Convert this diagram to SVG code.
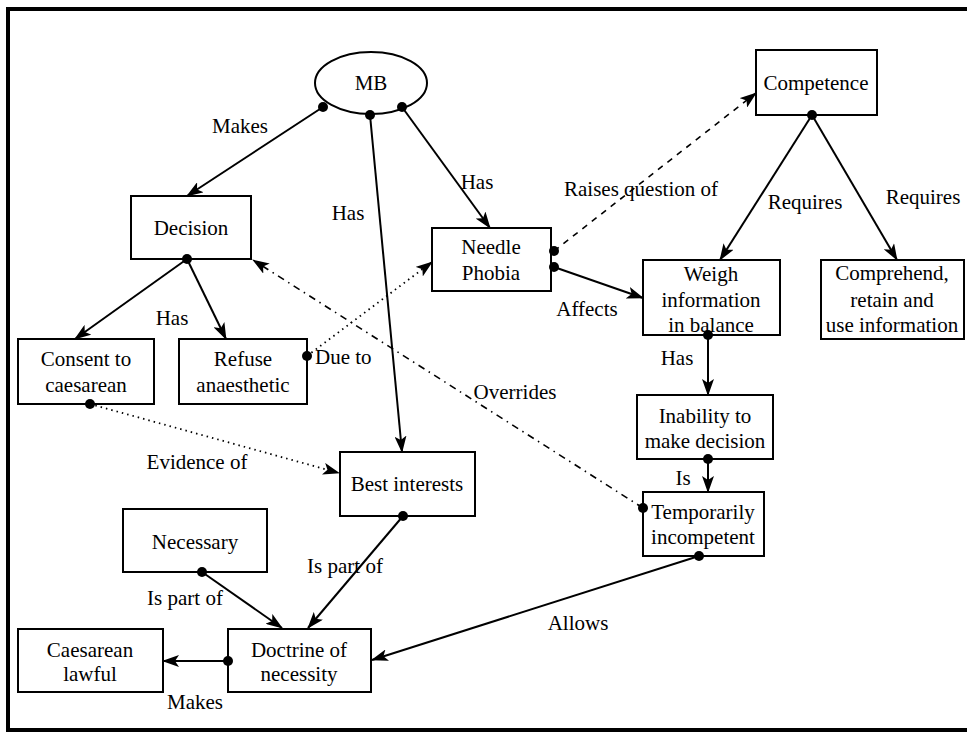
<svg xmlns="http://www.w3.org/2000/svg" width="967" height="732" viewBox="0 0 967 732">
<style>
  text { font-family: Liberation Serif, serif; font-size: 21px; fill: #000; text-anchor: middle; }
  .box { fill: #fff; stroke: #000; stroke-width: 2; }
  .c { fill: none; stroke: #000; stroke-width: 2; marker-end: url(#arr); }
  .dash { stroke-width: 1.6; stroke-dasharray: 6 6; }
  .dot { stroke-width: 1.8; stroke-dasharray: 1.5 4; }
  .dd { stroke-width: 1.6; stroke-dasharray: 7 5 1.5 5; }
</style>
<defs>
  <marker id="arr" viewBox="0 0 17 12" refX="16" refY="6" markerWidth="17" markerHeight="12" markerUnits="userSpaceOnUse" orient="auto">
    <path d="M0,0 L17,6 L0,12 L4,6 z" fill="#000"/>
  </marker>
</defs>
<rect width="967" height="732" fill="#fff"/>
<path d="M967,9 H8 V730 H967" fill="none" stroke="#000" stroke-width="4"/>

<g id="connectors">
  <line class="c" x1="323" y1="107" x2="187" y2="196"/>
  <line class="c" x1="370" y1="115" x2="402" y2="452"/>
  <line class="c" x1="402" y1="107" x2="490" y2="228"/>
  <line class="c dash" x1="554" y1="251" x2="756" y2="93"/>
  <line class="c" x1="554" y1="267" x2="643" y2="298"/>
  <line class="c" x1="812" y1="115" x2="720" y2="260"/>
  <line class="c" x1="812" y1="115" x2="897" y2="260"/>
  <line class="c" x1="708" y1="335" x2="708" y2="395"/>
  <line class="c" x1="708" y1="459" x2="708" y2="492"/>
  <line class="c dd" x1="643" y1="508" x2="253" y2="260"/>
  <line class="c" x1="699" y1="556" x2="372" y2="660"/>
  <line class="c" x1="187" y1="259" x2="75" y2="339"/>
  <line class="c" x1="187" y1="259" x2="226" y2="339"/>
  <line class="c dot" x1="307" y1="356" x2="432" y2="262"/>
  <line class="c dot" x1="90" y1="404" x2="339" y2="473"/>
  <line class="c" x1="403" y1="516" x2="308" y2="628"/>
  <line class="c" x1="202" y1="572" x2="282" y2="628"/>
  <line class="c" x1="228" y1="661" x2="163" y2="661"/>
  <text x="240" y="133">Makes</text>
  <text x="348" y="220">Has</text>
  <text x="477" y="189">Has</text>
  <text x="641" y="196">Raises question of</text>
  <text x="587" y="316">Affects</text>
  <text x="805" y="209">Requires</text>
  <text x="923" y="204">Requires</text>
  <text x="677" y="365">Has</text>
  <text x="683" y="485">Is</text>
  <text x="515" y="399">Overrides</text>
  <text x="578" y="630">Allows</text>
  <text x="172" y="325">Has</text>
  <text x="315" y="364" style="text-anchor:start">Due to</text>
  <text x="197" y="469">Evidence of</text>
  <text x="345" y="573">Is part of</text>
  <text x="185" y="605">Is part of</text>
  <text x="195" y="709">Makes</text>
</g>

<g id="mb"><ellipse class="box" cx="371" cy="83" rx="56" ry="31"/><text x="371" y="90">MB</text></g>
<g id="decision"><rect class="box" x="131" y="196" width="120" height="63"/><text x="191" y="235">Decision</text></g>
<g id="needle"><rect class="box" x="432" y="228" width="119" height="63"/><text x="491" y="254">Needle</text><text x="491" y="280">Phobia</text></g>
<g id="competence"><rect class="box" x="756" y="50" width="121" height="65"/><text x="816" y="90">Competence</text></g>
<g id="weigh"><rect class="box" x="643" y="260" width="137" height="75"/><text x="711" y="281">Weigh</text><text x="711" y="307">information</text><text x="711" y="332">in balance</text></g>
<g id="comprehend"><rect class="box" x="821" y="260" width="143" height="79"/><text x="892" y="280">Comprehend,</text><text x="892" y="307">retain and</text><text x="892" y="332">use information</text></g>
<g id="consent"><rect class="box" x="18" y="339" width="136" height="65"/><text x="86" y="366">Consent to</text><text x="86" y="392">caesarean</text></g>
<g id="refuse"><rect class="box" x="179" y="339" width="128" height="65"/><text x="243" y="366">Refuse</text><text x="243" y="392">anaesthetic</text></g>
<g id="inability"><rect class="box" x="637" y="395" width="136" height="64"/><text x="705" y="423">Inability to</text><text x="705" y="448">make decision</text></g>
<g id="best"><rect class="box" x="340" y="452" width="135" height="64"/><text x="407" y="491">Best interests</text></g>
<g id="temp"><rect class="box" x="643" y="492" width="121" height="64"/><text x="703" y="519">Temporarily</text><text x="703" y="544">incompetent</text></g>
<g id="necessary"><rect class="box" x="123" y="509" width="144" height="63"/><text x="195" y="549">Necessary</text></g>
<g id="doctrine"><rect class="box" x="228" y="629" width="143" height="63"/><text x="299" y="657">Doctrine of</text><text x="299" y="681">necessity</text></g>
<g id="caesarean"><rect class="box" x="18" y="629" width="145" height="63"/><text x="90" y="657">Caesarean</text><text x="90" y="681">lawful</text></g>

<g id="dots">
  <circle cx="323" cy="107" r="5"/><circle cx="370" cy="115" r="5"/><circle cx="402" cy="107" r="5"/>
  <circle cx="554" cy="251" r="5"/><circle cx="554" cy="267" r="5"/><circle cx="812" cy="115" r="5"/>
  <circle cx="708" cy="335" r="5"/><circle cx="708" cy="459" r="5"/><circle cx="643" cy="508" r="5"/>
  <circle cx="699" cy="556" r="5"/><circle cx="187" cy="259" r="5"/><circle cx="307" cy="356" r="5"/>
  <circle cx="90" cy="404" r="5"/><circle cx="403" cy="516" r="5"/><circle cx="202" cy="572" r="5"/>
  <circle cx="228" cy="661" r="5"/>
</g>
</svg>
